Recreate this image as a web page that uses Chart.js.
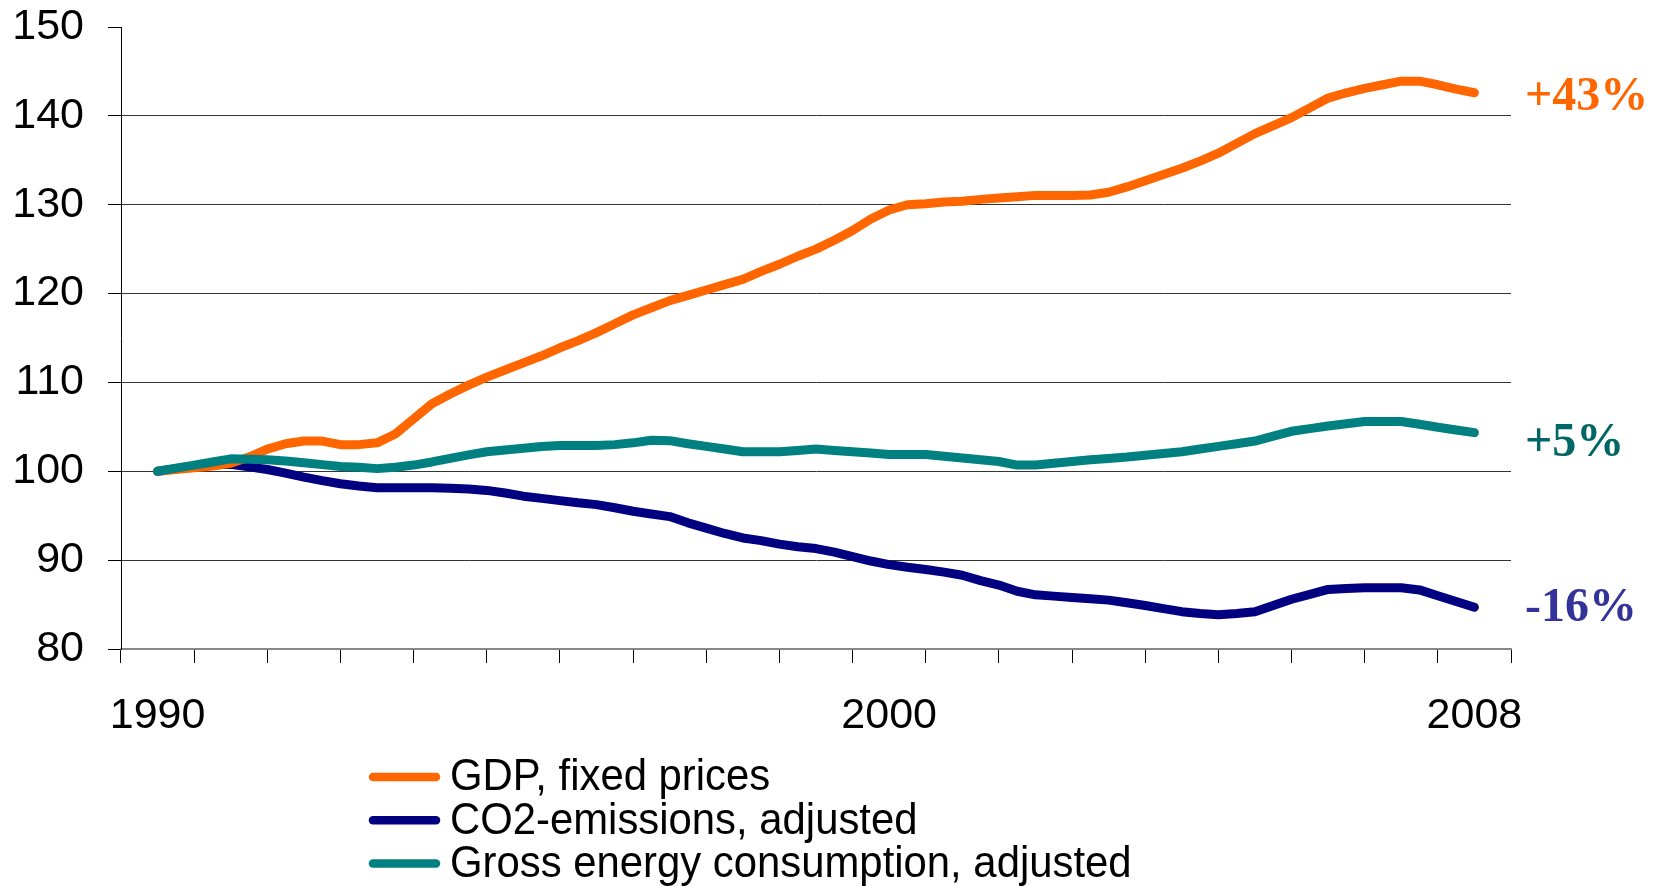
<!DOCTYPE html>
<html>
<head>
<meta charset="utf-8">
<script src="https://cdn.jsdelivr.net/npm/chart.js@4"></script>
<style>
  html, body { margin: 0; padding: 0; background: #fff; }
  #wrap { width: 1654px; height: 886px; position: relative; }
</style>
</head>
<body>
<div id="wrap"><canvas id="chart"></canvas></div>
<script>
// years on the axis, and the ones that get a label
const years = ['1990', '1991', '1992', '1993', '1994', '1995', '1996', '1997', '1998', '1999',
  '2000', '2001', '2002', '2003', '2004', '2005', '2006', '2007', '2008'];
const shownYears = ['1990', '2000', '2008'];

// quarterly index values, 1990 = 100
const gdp = [100.0, 100.2, 100.4, 100.6, 100.9, 101.6, 102.5, 103.1, 103.4, 103.4,
  103.0, 103.0, 103.2, 104.2, 105.9, 107.6, 108.7, 109.7, 110.6, 111.4,
  112.2, 113.0, 113.9, 114.7, 115.6, 116.6, 117.6, 118.4, 119.2, 119.8,
  120.4, 121.0, 121.6, 122.5, 123.3, 124.2, 125.0, 126.0, 127.1, 128.4,
  129.4, 130.0, 130.1, 130.3, 130.4, 130.6, 130.75, 130.9, 131.05, 131.05,
  131.05, 131.1, 131.4, 132.0, 132.7, 133.4, 134.1, 134.9, 135.8, 136.9,
  138.0, 138.9, 139.8, 140.9, 142.0, 142.6, 143.1, 143.5, 143.9, 143.9,
  143.5, 143.0, 142.6];
const co2 = [100.0, 100.3, 100.55, 100.75, 100.8, 100.5, 100.2, 99.8, 99.35, 98.95,
  98.6, 98.35, 98.15, 98.15, 98.15, 98.15, 98.1, 98.0, 97.85, 97.55,
  97.2, 96.95, 96.7, 96.45, 96.25, 95.9, 95.5, 95.2, 94.9, 94.2,
  93.6, 93.0, 92.5, 92.2, 91.8, 91.5, 91.3, 90.9, 90.4, 89.9,
  89.5, 89.2, 88.95, 88.65, 88.3, 87.7, 87.2, 86.5, 86.1, 85.95,
  85.8, 85.65, 85.5, 85.2, 84.9, 84.55, 84.2, 84.0, 83.85, 84.0,
  84.2, 84.9, 85.6, 86.15, 86.7, 86.8, 86.9, 86.9, 86.9, 86.65,
  86.0, 85.35, 84.7];
const energy = [100.0, 100.35, 100.7, 101.05, 101.4, 101.35, 101.3, 101.15, 100.95, 100.75,
  100.55, 100.45, 100.3, 100.45, 100.7, 101.05, 101.45, 101.85, 102.2, 102.4,
  102.6, 102.8, 102.9, 102.9, 102.9, 103.0, 103.2, 103.5, 103.45, 103.1,
  102.8, 102.5, 102.2, 102.2, 102.2, 102.35, 102.5, 102.35, 102.2, 102.05,
  101.9, 101.9, 101.9, 101.7, 101.5, 101.3, 101.1, 100.7, 100.7, 100.9,
  101.1, 101.3, 101.45, 101.6, 101.8, 102.0, 102.2, 102.5, 102.8, 103.1,
  103.4, 103.95, 104.5, 104.8, 105.1, 105.35, 105.6, 105.6, 105.6, 105.3,
  104.95, 104.65, 104.35];

const seriesNames = ['GDP, fixed prices', 'CO2-emissions, adjusted', 'Gross energy consumption, adjusted'];
const endLabels = ['+43%', '+5%', '-16%'];
const endLabelAt = [140.7, 101.7, 83.1];   // value on the y scale where the text baseline sits

const lineColors = ['#FF6600', '#000080', '#008080'];
const endLabelColors = ['#FF6600', '#006666', '#333399'];

const SANS = '"Liberation Sans", Arial, sans-serif';
const SERIF = '"Liberation Serif", "Times New Roman", serif';

// quarter -> fractional year, for the hidden linear axis
function toPoints(arr) {
  return arr.map((v, i) => ({ x: 1990 + i / 4, y: v }));
}

// legend + percent labels drawn on the canvas
const sideText = {
  id: 'sideText',
  afterDraw(chart) {
    const ctx = chart.ctx;
    const yScale = chart.scales.y;
    const area = chart.chartArea;
    ctx.save();

    ctx.font = 'bold 48px ' + SERIF;
    ctx.textAlign = 'left';
    ctx.textBaseline = 'alphabetic';
    endLabels.forEach((txt, i) => {
      ctx.fillStyle = endLabelColors[i];
      ctx.fillText(txt, area.right + 14, yScale.getPixelForValue(endLabelAt[i]));
    });

    chart.data.datasets.forEach((ds, i) => {
      const y = 777 + i * 43.3;
      ctx.strokeStyle = ds.borderColor;
      ctx.lineWidth = 8.5;
      ctx.lineCap = 'round';
      ctx.beginPath();
      ctx.moveTo(373, y);
      ctx.lineTo(436, y);
      ctx.stroke();
      // text in the original is a bit narrower than plain Arial
      ctx.save();
      ctx.translate(450, y + 1);
      ctx.scale(0.93, 1);
      ctx.font = '45px ' + SANS;
      ctx.textBaseline = 'middle';
      ctx.fillStyle = '#000';
      ctx.fillText(ds.label, 0, 0);
      ctx.restore();
    });
    ctx.restore();
  }
};

const datasets = [gdp, co2, energy].map((arr, i) => ({
  label: seriesNames[i],
  data: toPoints(arr),
  xAxisID: 'xq',
  borderColor: lineColors[i],
  backgroundColor: lineColors[i],
  borderWidth: 9,
  borderCapStyle: 'round',
  borderJoinStyle: 'round',
  pointRadius: 0,
  tension: 0,
  order: [1, 2, 0][i]
}));

new Chart(document.getElementById('chart'), {
  type: 'line',
  data: { labels: years, datasets: datasets },
  options: {
    responsive: true,
    maintainAspectRatio: false,
    animation: false,
    layout: { padding: { top: 27, right: 143, left: 0, bottom: 0 } },
    plugins: {
      legend: { display: false },
      tooltip: { enabled: false }
    },
    scales: {
      x: {
        type: 'category',
        offset: true,
        grid: { drawOnChartArea: false, offset: true, tickLength: 14, color: '#000', lineWidth: 1 },
        border: { color: '#888', width: 2 },
        ticks: {
          autoSkip: false,
          maxRotation: 0,
          padding: 27,
          color: '#000',
          font: { family: SANS, size: 43 },
          callback: function (value) {
            const lab = this.getLabelForValue(value);
            return shownYears.includes(lab) ? lab : '';
          }
        },
        afterFit: (scale) => { scale.height = 237; }
      },
      xq: {
        type: 'linear',
        display: false,
        min: 1989.5,
        max: 2008.5
      },
      y: {
        min: 80,
        max: 150,
        ticks: {
          stepSize: 10,
          padding: 24,
          color: '#000',
          font: { family: SANS, size: 43 }
        },
        grid: {
          tickLength: 13,
          tickColor: '#000',
          lineWidth: 1,
          color: (c) => (c.tick && c.tick.value === 150 ? 'rgba(0,0,0,0)' : '#333')
        },
        border: { color: '#000', width: 1 },
        afterFit: (scale) => {
          scale.width = 121;
          scale.paddingTop = 0;
          scale.paddingBottom = 0;
        }
      }
    }
  },
  plugins: [sideText]
});
</script>
</body>
</html>
